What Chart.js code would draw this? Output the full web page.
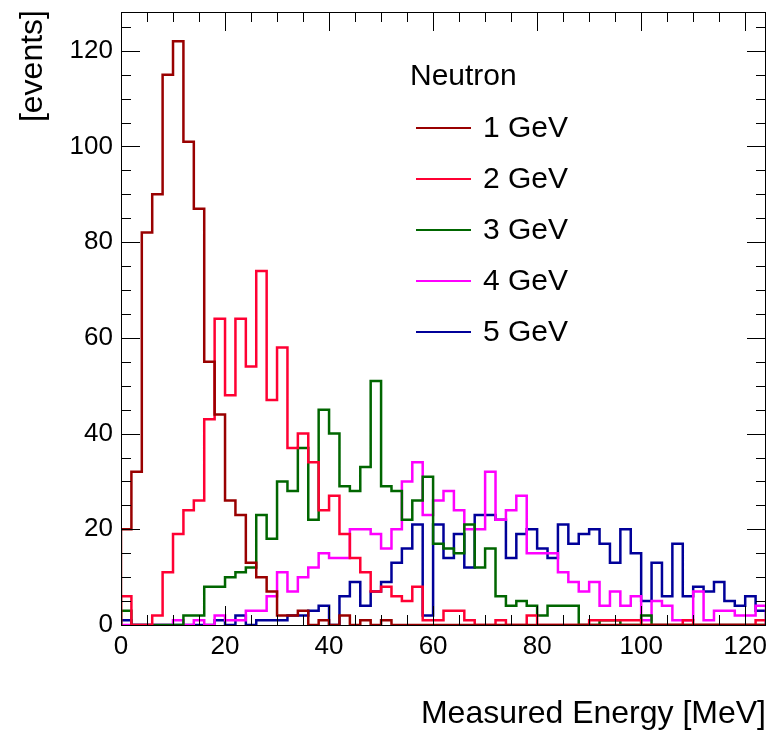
<!DOCTYPE html>
<html>
<head>
<meta charset="utf-8">
<script src="https://cdn.jsdelivr.net/npm/chart.js@4.4.0/dist/chart.umd.min.js"></script>
<style>
  html, body { margin: 0; padding: 0; background: #fff; }
  #wrap { width: 771px; height: 732px; }
</style>
</head>
<body>
<div id="wrap"><canvas id="grafico" width="771" height="732"></canvas></div>
<script>
// Histogram of measured energy, bins of 2 MeV from 0 to 124 MeV
const binWidth = 2;
const xMax = 124;
const yMax = 128.1;
const xTicks = [0, 20, 40, 60, 80, 100, 120];
const yTicks = [0, 20, 40, 60, 80, 100, 120];
const legendTitle = "Neutron";
const series = ["1 GeV", "2 GeV", "3 GeV", "4 GeV", "5 GeV"];
const colores = ["#990000", "#ff0033", "#006600", "#ff00ff", "#000099"];

const cuentas1GeV = [20, 32, 82, 90, 115, 122, 101, 87, 55, 44, 26, 23, 13, 10, 7, 2, 2, 3, 0, 1,
  0, 2, 0, 1, 0, 1, 0, 0, 0, 0, 0, 0, 0, 0, 0, 0, 0, 0, 0, 0,
  0, 0, 0, 0, 0, 0, 0, 0, 0, 0, 0, 0, 0, 0, 0, 0, 0, 0, 0, 0, 0, 0];
const cuentas2GeV = [6, 0, 0, 2, 11, 19, 24, 26, 43, 64, 48, 64, 54, 74, 47, 58, 37, 40, 34, 24,
  27, 19, 14, 11, 7, 8, 6, 5, 8, 1, 1, 3, 3, 1, 0, 0, 1, 0, 0, 2,
  0, 0, 0, 0, 0, 1, 1, 1, 1, 1, 0, 0, 0, 0, 1, 0, 0, 0, 0, 0, 0, 1];
const cuentas3GeV = [3, 0, 0, 0, 0, 0, 2, 2, 8, 8, 10, 11, 12, 23, 18, 30, 28, 37, 22, 45,
  40, 29, 28, 33, 51, 29, 28, 22, 26, 31, 17, 16, 15, 21, 12, 16, 6, 4, 5, 4,
  2, 4, 4, 4, 0, 0, 1, 1, 0, 0, 2, 0, 0, 0, 0, 0, 0, 0, 0, 0, 0, 0];
const cuentas4GeV = [0, 0, 0, 0, 0, 1, 0, 1, 0, 2, 1, 1, 3, 3, 6, 11, 7, 10, 12, 15,
  14, 14, 20, 20, 19, 16, 20, 30, 34, 23, 26, 28, 24, 20, 20, 32, 22, 24, 27, 15,
  15, 15, 11, 9, 7, 9, 4, 7, 4, 6, 1, 5, 4, 1, 1, 7, 1, 3, 3, 2, 2, 4];
const cuentas5GeV = [1, 0, 0, 0, 0, 0, 0, 0, 0, 1, 0, 2, 0, 1, 1, 1, 2, 2, 3, 4,
  0, 6, 9, 4, 7, 9, 13, 16, 21, 2, 21, 14, 19, 12, 23, 23, 22, 14, 19, 20,
  16, 14, 21, 17, 19, 20, 17, 13, 20, 15, 5, 13, 6, 17, 6, 8, 7, 9, 5, 4, 6, 3];

const todasCuentas = [cuentas1GeV, cuentas2GeV, cuentas3GeV, cuentas4GeV, cuentas5GeV];

const FUENTE = '"Liberation Sans", Arial, Helvetica, sans-serif';

// Convierte los conteos por bin en puntos para una linea escalonada tipo ROOT
function pasos(cuentas) {
  const pts = [{ x: 0, y: 0 }];
  cuentas.forEach((v, i) => pts.push({ x: i * binWidth, y: v }));
  const ultimo = cuentas[cuentas.length - 1];
  pts.push({ x: cuentas.length * binWidth, y: ultimo });
  pts.push({ x: cuentas.length * binWidth, y: 0 });
  return pts;
}

// Marco, ticks internos y textos al estilo ROOT
const estiloRoot = {
  id: 'estiloRoot',
  afterDraw(chart) {
    const { ctx, chartArea: a, scales: { x, y } } = chart;
    ctx.save();
    ctx.strokeStyle = '#000';
    ctx.lineWidth = 1;
    ctx.strokeRect(a.left + 0.5, a.top + 0.5, a.right - a.left - 1, a.bottom - a.top);

    ctx.beginPath();
    for (let v = 0; v <= xMax; v += 5) {
      const px = Math.round(x.getPixelForValue(v)) + 0.5;
      const len = v % 20 === 0 ? 19 : 10;
      ctx.moveTo(px, a.bottom); ctx.lineTo(px, a.bottom - len);
      ctx.moveTo(px, a.top); ctx.lineTo(px, a.top + len);
    }
    for (let v = 0; v <= yMax; v += 5) {
      const py = Math.round(y.getPixelForValue(v)) + 0.5;
      const len = v % 20 === 0 ? 19 : 10;
      ctx.moveTo(a.left, py); ctx.lineTo(a.left + len, py);
      ctx.moveTo(a.right, py); ctx.lineTo(a.right - len, py);
    }
    ctx.stroke();

    // titulos de ejes
    ctx.fillStyle = '#000';
    ctx.font = '32px ' + FUENTE;
    ctx.textAlign = 'right';
    ctx.textBaseline = 'alphabetic';
    ctx.fillText('Measured Energy [MeV]', a.right, 723);
    ctx.save();
    ctx.translate(42, 10);
    ctx.rotate(-Math.PI / 2);
    ctx.fillText('[events]', 0, 0);
    ctx.restore();

    // leyenda
    ctx.font = '30px ' + FUENTE;
    ctx.textAlign = 'left';
    ctx.textBaseline = 'middle';
    ctx.fillText(legendTitle, 410, 77);
    chart.data.datasets.forEach((ds, i) => {
      const ly = 128 + i * 51;
      ctx.strokeStyle = ds.borderColor;
      ctx.lineWidth = 2;
      ctx.beginPath();
      ctx.moveTo(416, ly); ctx.lineTo(471, ly);
      ctx.stroke();
      ctx.fillStyle = '#000';
      ctx.fillText(ds.label, 483, ly + 1);
    });
    ctx.restore();
  }
};

new Chart(document.getElementById('grafico'), {
  type: 'line',
  data: {
    datasets: series.map((nombre, i) => ({
      label: nombre,
      data: pasos(todasCuentas[i]),
      borderColor: colores[i],
      borderWidth: 2.5,
      pointRadius: 0,
      fill: false,
      stepped: true,
      tension: 0
    }))
  },
  options: {
    responsive: false,
    animation: false,
    devicePixelRatio: 1,
    layout: { padding: { left: 0, right: 5, top: 12, bottom: 0 } },
    plugins: { legend: { display: false }, tooltip: { enabled: false } },
    scales: {
      x: {
        type: 'linear',
        min: 0,
        max: xMax,
        grid: { display: false, drawTicks: false },
        border: { display: false },
        afterFit(scale) {
          scale.height = 107;
          scale.paddingLeft = 0;
          scale.paddingRight = 0;
        },
        afterBuildTicks(scale) { scale.ticks = xTicks.map(v => ({ value: v })); },
        ticks: {
          color: '#000',
          font: { family: FUENTE, size: 26 },
          padding: 6,
          maxRotation: 0,
          autoSkip: false
        }
      },
      y: {
        min: 0,
        max: yMax,
        grid: { display: false, drawTicks: false },
        border: { display: false },
        afterFit(scale) {
          scale.width = 121;
          scale.paddingTop = 0;
          scale.paddingBottom = 0;
        },
        afterBuildTicks(scale) { scale.ticks = yTicks.map(v => ({ value: v })); },
        ticks: {
          color: '#000',
          font: { family: FUENTE, size: 26 },
          padding: 8,
          autoSkip: false
        }
      }
    }
  },
  plugins: [estiloRoot]
});
</script>
</body>
</html>
